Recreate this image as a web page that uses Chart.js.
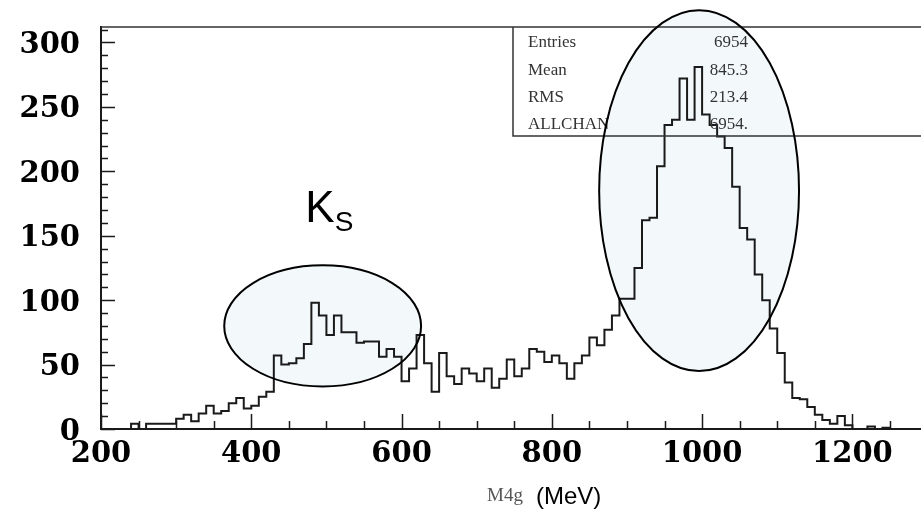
<!DOCTYPE html>
<html>
<head>
<meta charset="utf-8">
<script src="https://cdn.jsdelivr.net/npm/chart.js@4.4.1/dist/chart.umd.min.js"></script>
<style>
  html, body { margin: 0; padding: 0; background: #fff; }
  #plot { display: block; }
</style>
</head>
<body>
<canvas id="plot" width="921" height="515"></canvas>
<script>
// M4g spectrum, 10 MeV bins from 200 MeV
const binLow = 200;
const binWidth = 10;
const counts = [
  0, 0, 0, 0, 4, 0, 4, 4, 4, 4,
  8, 11, 6, 12, 18, 12, 14, 20, 24, 16,
  18, 25, 29, 57, 50, 51, 55, 66, 98, 88,
  73, 88, 75, 75, 67, 68, 68, 56, 62, 56,
  37, 47, 73, 51, 29, 59, 41, 35, 47, 43,
  37, 47, 32, 39, 54, 41, 47, 62, 60, 52,
  57, 51, 39, 51, 57, 71, 65, 77, 88, 101,
  101, 125, 162, 164, 204, 236, 240, 272, 240, 281,
  244, 236, 227, 218, 188, 156, 147, 120, 100, 78,
  59, 36, 24, 23, 17, 11, 7, 4, 10, 3,
  0, 0, 2, 0, 1, 0, 0, 0, 0, 0
];
const xTickLabels = [200, 400, 600, 800, 1000, 1200];
const yTickLabels = [0, 50, 100, 150, 200, 250, 300];
const statNames = ['Entries', 'Mean', 'RMS', 'ALLCHAN'];
const statValues = ['6954', '845.3', '213.4', '6954.'];

// circled regions, in axis units
const circled = [
  { cx: 495, cy: 80, rx: 131, ry: 47 },
  { cx: 996, cy: 185, rx: 133, ry: 140 }
];

// histogram outline: one point per bin low edge, plus the closing edge
const points = counts.map((c, i) => ({ x: binLow + i * binWidth, y: c }));
points.push({ x: binLow + counts.length * binWidth, y: 0 });

const ink = '#1a1a1a';

function ellipsePath(ctx, chart, e) {
  const xs = chart.scales.x, ys = chart.scales.y;
  const cx = xs.getPixelForValue(e.cx);
  const cy = ys.getPixelForValue(e.cy);
  const rx = xs.getPixelForValue(e.cx + e.rx) - cx;
  const ry = cy - ys.getPixelForValue(e.cy + e.ry);
  ctx.beginPath();
  ctx.ellipse(cx, cy, rx, ry, 0, 0, Math.PI * 2);
}

const decorations = {
  id: 'decorations',
  beforeDatasetsDraw(chart) {
    const ctx = chart.ctx;
    ctx.save();
    ctx.fillStyle = 'rgb(243,248,251)';
    circled.forEach(e => { ellipsePath(ctx, chart, e); ctx.fill(); });
    ctx.restore();
  },
  afterDatasetsDraw(chart) {
    const ctx = chart.ctx;
    const area = chart.chartArea;
    const xs = chart.scales.x, ys = chart.scales.y;
    ctx.save();

    // frame top and stats box
    const boxLeft = 513, boxBottom = area.top + 109;
    ctx.strokeStyle = '#333';
    ctx.lineWidth = 1.5;
    ctx.beginPath();
    ctx.moveTo(area.left, area.top);
    ctx.lineTo(area.right + 1, area.top);
    ctx.moveTo(boxLeft, area.top);
    ctx.lineTo(boxLeft, boxBottom);
    ctx.lineTo(area.right + 1, boxBottom);
    ctx.stroke();

    ctx.fillStyle = '#333';
    ctx.font = '17px "Liberation Serif"';
    ctx.textBaseline = 'middle';
    statNames.forEach((name, i) => {
      const y = area.top + 16 + i * 27.3;
      ctx.textAlign = 'left';
      ctx.fillText(name, boxLeft + 15, y);
      ctx.textAlign = 'right';
      ctx.fillText(statValues[i], 748, y);
    });

    // inward tick marks
    ctx.strokeStyle = ink;
    ctx.lineWidth = 1.5;
    ctx.beginPath();
    for (let v = 0; v <= ys.max; v += 10) {
      const y = Math.round(ys.getPixelForValue(v)) + 0.5;
      const len = v % 50 === 0 ? 14 : 7;
      ctx.moveTo(area.left, y);
      ctx.lineTo(area.left + len, y);
    }
    for (let v = xs.min; v <= xs.max; v += 50) {
      const x = Math.round(xs.getPixelForValue(v)) + 0.5;
      const len = v % 200 === 0 ? 15 : 8;
      ctx.moveTo(x, area.bottom);
      ctx.lineTo(x, area.bottom - len);
    }
    ctx.stroke();

    // ellipse outlines
    ctx.strokeStyle = '#000';
    ctx.lineWidth = 2;
    circled.forEach(e => { ellipsePath(ctx, chart, e); ctx.stroke(); });

    // K_S label
    ctx.fillStyle = '#000';
    ctx.textAlign = 'left';
    ctx.textBaseline = 'alphabetic';
    const kx = xs.getPixelForValue(472);
    const ky = ys.getPixelForValue(161);
    ctx.font = '44px "Liberation Sans"';
    const kw = ctx.measureText('K').width;
    ctx.fillText('K', kx, ky);
    ctx.font = '28px "Liberation Sans"';
    ctx.fillText('S', kx + kw, ky + 9);

    // axis title
    ctx.font = '19px "Liberation Serif"';
    ctx.fillStyle = '#555';
    ctx.fillText('M4g', 487, 501);
    ctx.font = '24px "Liberation Sans"';
    ctx.fillStyle = '#000';
    ctx.fillText('(MeV)', 536, 504);

    ctx.restore();
  }
};

const tickFont = { family: '"DejaVu Serif"', size: 29, weight: 'bold' };

new Chart(document.getElementById('plot'), {
  type: 'line',
  data: {
    datasets: [{
      data: points,
      stepped: 'before',
      borderColor: ink,
      borderWidth: 2,
      pointRadius: 0,
      fill: false
    }]
  },
  options: {
    responsive: false,
    animation: false,
    devicePixelRatio: 1,
    layout: { padding: { top: 27, right: 1, bottom: 0, left: 0 } },
    plugins: { legend: { display: false }, tooltip: { enabled: false } },
    scales: {
      x: {
        type: 'linear',
        min: 200,
        max: 1290,
        afterBuildTicks: s => { s.ticks = xTickLabels.map(v => ({ value: v })); },
        afterFit: s => { s.height = 86; s.paddingLeft = 0; s.paddingRight = 0; },
        grid: { display: false, drawTicks: false },
        border: { display: true, color: ink, width: 2 },
        ticks: { color: '#000', font: tickFont, padding: 8, maxRotation: 0, autoSkip: false,
                 callback: v => String(v) }
      },
      y: {
        min: 0,
        max: 312,
        afterBuildTicks: s => { s.ticks = yTickLabels.map(v => ({ value: v })); },
        afterFit: s => { s.width = 101; s.paddingTop = 0; s.paddingBottom = 0; },
        grid: { display: false, drawTicks: false },
        border: { display: true, color: ink, width: 2 },
        ticks: { color: '#000', font: tickFont, padding: 21, labelOffset: 3 }
      }
    }
  },
  plugins: [decorations]
});
</script>
</body>
</html>
